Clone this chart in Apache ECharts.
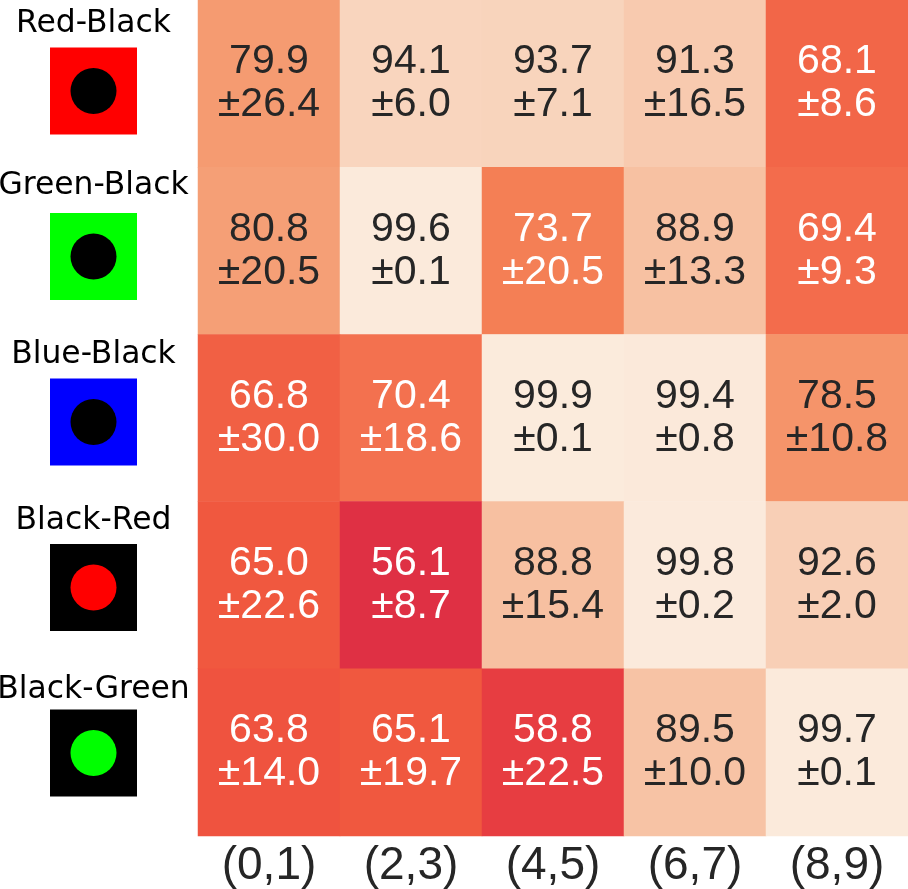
<!DOCTYPE html>
<html>
<head>
<meta charset="utf-8">
<style>html,body{margin:0;padding:0;background:#fff}#c{width:908px;height:889px}</style>
<script src="https://cdn.jsdelivr.net/npm/echarts@6/dist/echarts.min.js"></script>
</head>
<body>
<div id="c"></div>
<script>
const digitPairs = ['(0,1)', '(2,3)', '(4,5)', '(6,7)', '(8,9)'];
const colourPairs = ['Red-Black', 'Green-Black', 'Blue-Black', 'Black-Red', 'Black-Green'];
const means = [
  [79.9, 94.1, 93.7, 91.3, 68.1],
  [80.8, 99.6, 73.7, 88.9, 69.4],
  [66.8, 70.4, 99.9, 99.4, 78.5],
  [65.0, 56.1, 88.8, 99.8, 92.6],
  [63.8, 65.1, 58.8, 89.5, 99.7]
];
const spreads = [
  [26.4, 6.0, 7.1, 16.5, 8.6],
  [20.5, 0.1, 20.5, 13.3, 9.3],
  [30.0, 18.6, 0.1, 0.8, 10.8],
  [22.6, 8.7, 15.4, 0.2, 2.0],
  [14.0, 19.7, 22.5, 10.0, 0.1]
];
const swatchColours = ['#ff0000', '#00ff00', '#0000ff', '#000000', '#000000'];
const dotColours = ['#000000', '#000000', '#000000', '#ff0000', '#00ff00'];
const rocketStops = ['#c81c50', '#dc2a45', '#ea4340', '#f0583f', '#f36f4e', '#f48458', '#f59b72', '#f6b18c', '#f7c5a8', '#f9d9c3', '#fbebdd'];
const nameShift = [-67, -71, -67, -67, -63];

const cells = [];
means.forEach((row, r) => row.forEach((m, c) => {
  cells.push({
    value: [c, r, m],
    label: {
      formatter: m.toFixed(1) + '\n±' + spreads[r][c].toFixed(1),
      color: m < 75 ? '#ffffff' : '#262626'
    }
  });
}));

const chart = echarts.init(document.getElementById('c'), null, { renderer: 'canvas' });
chart.setOption({
  animation: false,
  backgroundColor: '#ffffff',
  grid: [
    { left: 198, top: 0, width: 710, height: 836 },
    { left: 0, top: 8.25, width: 187, height: 827.5 }
  ],
  xAxis: [
    {
      type: 'category', gridIndex: 0, data: digitPairs,
      axisLine: { show: false }, axisTick: { show: false }, splitLine: { show: false },
      axisLabel: { fontFamily: 'Liberation Sans', fontSize: 46, color: '#262626', margin: 7, interval: 0 }
    },
    { type: 'category', gridIndex: 1, data: ['swatch'], show: false }
  ],
  yAxis: [
    { type: 'category', gridIndex: 0, data: colourPairs, inverse: true, show: false },
    { type: 'category', gridIndex: 1, data: colourPairs, inverse: true, show: false }
  ],
  visualMap: {
    show: false, seriesIndex: 0, dimension: 2, min: 50, max: 100,
    inRange: { color: rocketStops }
  },
  series: [
    {
      type: 'heatmap', xAxisIndex: 0, yAxisIndex: 0, data: cells,
      label: {
        show: true, fontFamily: 'Liberation Sans', fontSize: 41, lineHeight: 43,
        align: 'center', verticalAlign: 'middle'
      },
      emphasis: { disabled: true }, silent: true
    },
    {
      type: 'scatter', xAxisIndex: 1, yAxisIndex: 1, symbol: 'rect', symbolSize: 87, silent: true,
      data: colourPairs.map((name, i) => ({
        value: [0, i],
        itemStyle: { color: swatchColours[i], opacity: 1 },
        label: {
          show: true, formatter: name, position: 'inside', offset: [0, nameShift[i]],
          fontFamily: 'DejaVu Sans', fontSize: 31.4, color: '#000000'
        }
      }))
    },
    {
      type: 'scatter', xAxisIndex: 1, yAxisIndex: 1, symbol: 'circle', symbolSize: 46, silent: true,
      data: colourPairs.map((name, i) => ({
        value: [0, i],
        itemStyle: { color: dotColours[i], opacity: 1 }
      }))
    }
  ]
});
</script>
</body>
</html>
